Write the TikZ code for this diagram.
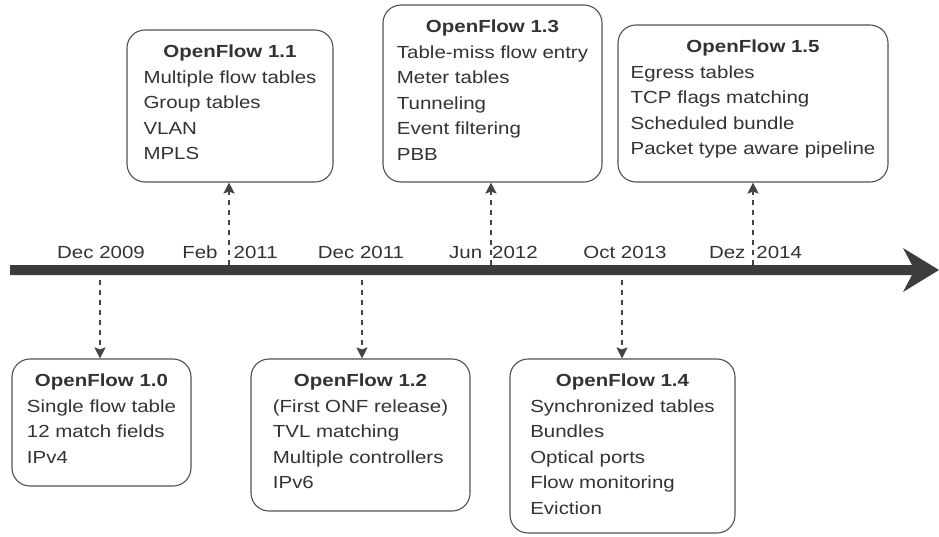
\documentclass[tikz,border=0pt]{standalone}
\usepackage{fontspec}
\setmainfont{Liberation Sans}[FakeStretch=1.17]
\usetikzlibrary{arrows.meta,fit}
\definecolor{barc}{RGB}{60,60,60}
\definecolor{txtc}{RGB}{51,51,51}
\definecolor{edgec}{RGB}{80,80,80}
\definecolor{connc}{RGB}{68,68,68}
\begin{document}
\begin{tikzpicture}[x=1pt,y=-1pt,
  relbox/.style={draw=edgec, line width=1.1pt, rounded corners=18pt,
    inner sep=0pt, rectangle},
  boxtext/.style={inner sep=0pt, anchor=north, yshift=-10pt, text=txtc,
    font=\fontsize{17.5}{25.5}\selectfont},
  datelabel/.style={inner sep=0pt, anchor=base, text=txtc,
    font=\fontsize{17.5}{21}\selectfont},
  conn/.style={draw=connc, line width=2pt, dash pattern=on 5pt off 5pt,
    -{Stealth[length=11pt,width=11pt,inset=2pt]}}]
\useasboundingbox (0,0) rectangle (939,536);
\fill[white] (0,0) rectangle (939,536);

% timeline bar with its arrowhead
\fill[barc] (10,265) -- (912,265) -- (903,248) -- (939,270) -- (903,292)
  -- (912,275) -- (10,275) -- cycle;

% release dates
\node[datelabel] (d10) at (101,258) {Dec 2009};
\node[datelabel] (d11) at (230,258) {Feb\hspace{16pt}2011};
\node[datelabel] (d12) at (361,258) {Dec 2011};
\node[datelabel] (d13) at (493.5,258) {Jun\hspace{10pt}2012};
\node[datelabel] (d14) at (625,258) {Oct 2013};
\node[datelabel] (d15) at (755.5,258) {Dez\hspace{11pt}2014};

% anchor points on the timeline
\coordinate (m10) at (100,280);
\coordinate (m11) at (229,265);
\coordinate (m12) at (362,280);
\coordinate (m13) at (491,265);
\coordinate (m14) at (622,280);
\coordinate (m15) at (753,265);

% release boxes
\node[relbox, fit={(12,359) (191,486)}] (b10) {};
\node[boxtext] (t10) at (b10.north) {\begin{tabular}{@{}l@{}}
  \multicolumn{1}{@{}c@{}}{\bfseries OpenFlow 1.0}\\
  Single flow table\\ 12 match fields\\ IPv4\end{tabular}};

\node[relbox, fit={(127,30) (333,182)}] (b11) {};
\node[boxtext] (t11) at (b11.north) {\begin{tabular}{@{}l@{}}
  \multicolumn{1}{@{}c@{}}{\bfseries OpenFlow 1.1}\\
  Multiple flow tables\\ Group tables\\ VLAN\\ MPLS\end{tabular}};

\node[relbox, fit={(251,359) (470,511)}] (b12) {};
\node[boxtext] (t12) at (b12.north) {\begin{tabular}{@{}l@{}}
  \multicolumn{1}{@{}c@{}}{\bfseries OpenFlow 1.2}\\
  (First ONF release)\\ TVL matching\\ Multiple controllers\\ IPv6\end{tabular}};

\node[relbox, fit={(383,5) (602,182)}] (b13) {};
\node[boxtext] (t13) at (b13.north) {\begin{tabular}{@{}l@{}}
  \multicolumn{1}{@{}c@{}}{\bfseries OpenFlow 1.3}\\
  Table-miss flow entry\\ Meter tables\\ Tunneling\\ Event filtering\\ PBB\end{tabular}};

\node[relbox, fit={(510,359) (735,533)}] (b14) {};
\node[boxtext] (t14) at (b14.north) {\begin{tabular}{@{}l@{}}
  \multicolumn{1}{@{}c@{}}{\bfseries OpenFlow 1.4}\\
  Synchronized tables\\ Bundles\\ Optical ports\\ Flow monitoring\\ Eviction\end{tabular}};

\node[relbox, fit={(618,25) (888,182)}] (b15) {};
\node[boxtext] (t15) at (b15.north) {\begin{tabular}{@{}l@{}}
  \multicolumn{1}{@{}c@{}}{\bfseries OpenFlow 1.5}\\
  Egress tables\\ TCP flags matching\\ Scheduled bundle\\ Packet type aware pipeline\end{tabular}};

% dashed connectors from the timeline to the boxes
\draw[conn] (m10) -- (m10 |- b10.north);
\draw[conn] (m11) -- (m11 |- b11.south);
\draw[conn] (m12) -- (m12 |- b12.north);
\draw[conn] (m13) -- (m13 |- b13.south);
\draw[conn] (m14) -- (m14 |- b14.north);
\draw[conn] (m15) -- (m15 |- b15.south);
\end{tikzpicture}
\end{document}
